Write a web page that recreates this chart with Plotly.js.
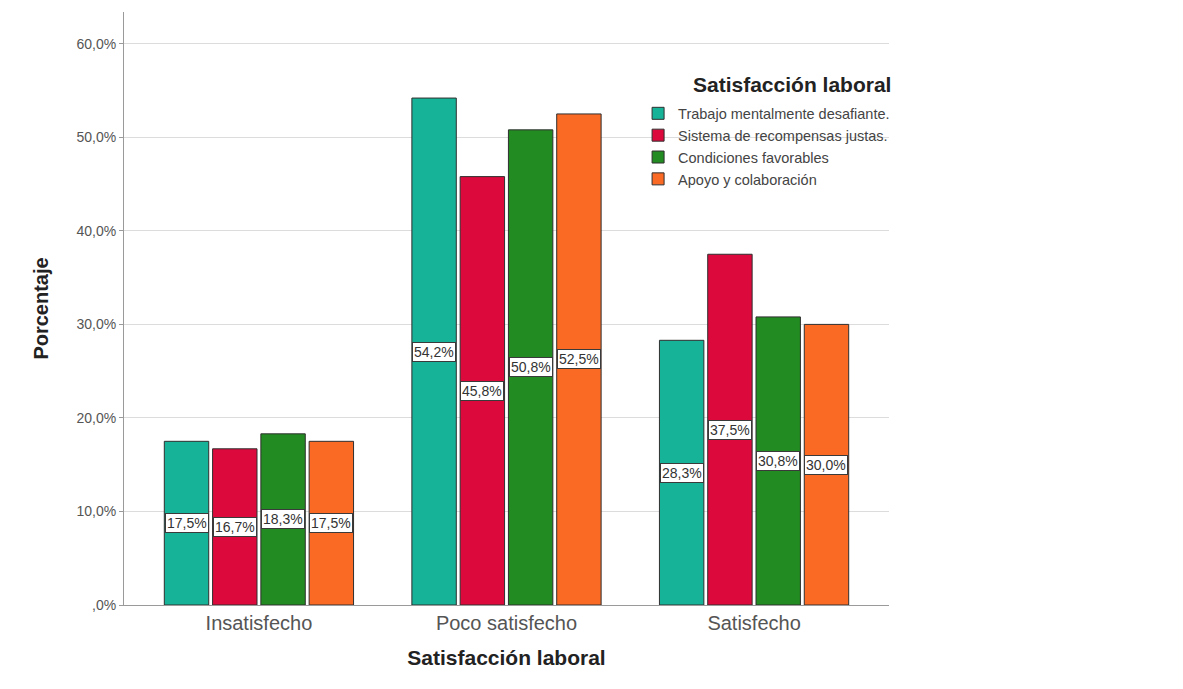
<!DOCTYPE html>
<html>
<head>
<meta charset="utf-8">
<script src="https://cdn.plot.ly/plotly-3.0.1.min.js"></script>
<style>
  html, body { margin: 0; padding: 0; background: #ffffff; }
  #chart { width: 1183px; height: 689px; }
</style>
</head>
<body>
<div id="chart"></div>
<script>
// Categories on the x axis
const categories = ['Insatisfecho', 'Poco satisfecho', 'Satisfecho'];

// One series per dimension of job satisfaction (percent)
const seriesNames = [
  'Trabajo mentalmente desafiante.',
  'Sistema de recompensas justas.',
  'Condiciones favorables',
  'Apoyo y colaboración'
];
const trabajoDesafiante = [17.5, 54.2, 28.3];
const recompensasJustas = [16.7, 45.8, 37.5];
const condicionesFavorables = [18.3, 50.8, 30.8];
const apoyoColaboracion = [17.5, 52.5, 30.0];

// Y axis tick values and their labels
const yTickVals = [0, 10, 20, 30, 40, 50, 60];
const yTickText = [',0%', '10,0%', '20,0%', '30,0%', '40,0%', '50,0%', '60,0%'];

const legendTitle = 'Satisfacción laboral';

const seriesValues = [trabajoDesafiante, recompensasJustas, condicionesFavorables, apoyoColaboracion];
const seriesColors = ['#17b398', '#dc0a3c', '#228b22', '#fb6a24'];

const BARGAP = 0.22;
const BARGROUPGAP = 0.08;

const traces = seriesValues.map((vals, i) => ({
  type: 'bar',
  name: seriesNames[i],
  x: categories,
  y: vals,
  marker: { color: seriesColors[i], line: { color: '#2f2f2f', width: 1 } },
  hoverinfo: 'skip'
}));

// Boxed value labels at mid height of every bar
const fmt = v => v.toFixed(1).replace('.', ',') + '%';
const annotations = [];
const slot = (1 - BARGAP) / seriesValues.length;
seriesValues.forEach((vals, i) => {
  vals.forEach((v, c) => {
    annotations.push({
      xref: 'x', yref: 'y',
      x: c + (i - (seriesValues.length - 1) / 2) * slot,
      y: v / 2,
      text: fmt(v),
      showarrow: false,
      font: { family: 'Liberation Sans, Arial, sans-serif', size: 14, color: '#333333' },
      bgcolor: '#ffffff',
      bordercolor: '#3a3a3a',
      borderwidth: 1,
      borderpad: 1
    });
  });
});

// Legend heading, set slightly right of the legend entries
annotations.push({
  xref: 'paper', yref: 'paper',
  x: 0.873, y: 0.877,
  xanchor: 'center', yanchor: 'middle',
  text: '<b>' + legendTitle + '</b>',
  showarrow: false,
  font: { family: 'Liberation Sans, Arial, sans-serif', size: 21, color: '#222222' }
});

const layout = {
  width: 1183,
  height: 689,
  paper_bgcolor: '#ffffff',
  plot_bgcolor: '#ffffff',
  margin: { l: 124, r: 294, t: 12, b: 84 },
  barmode: 'group',
  bargap: BARGAP,
  bargroupgap: BARGROUPGAP,
  font: { family: 'Liberation Sans, Arial, sans-serif', color: '#444444' },
  xaxis: {
    type: 'category',
    range: [-0.545, 2.545],
    showline: true,
    linecolor: '#9a9a9a',
    linewidth: 1,
    ticks: '',
    showgrid: false,
    tickfont: { size: 20, color: '#555555' },
    title: {
      text: 'Satisfacción laboral',
      font: { size: 21, color: '#222222', weight: 'bold' },
      standoff: 17
    }
  },
  yaxis: {
    range: [0, 63.4],
    tickvals: yTickVals,
    ticktext: yTickText,
    showline: true,
    linecolor: '#9a9a9a',
    linewidth: 1,
    ticks: 'outside',
    ticklen: 4,
    tickcolor: '#9a9a9a',
    showgrid: true,
    gridcolor: '#dcdcdc',
    gridwidth: 1,
    zeroline: false,
    tickfont: { size: 14, color: '#555555' },
    title: {
      text: 'Porcentaje',
      font: { size: 20, color: '#222222', weight: 'bold' },
      standoff: 22
    }
  },
  showlegend: true,
  legend: {
    x: 0.672,
    y: 0.856,
    xanchor: 'left',
    yanchor: 'top',
    bgcolor: 'rgba(0,0,0,0)',
    itemwidth: 30,
    tracegroupgap: 0,
    font: { size: 14.5, color: '#444444' }
  },
  annotations: annotations
};

Plotly.newPlot('chart', traces, layout, { displayModeBar: false, staticPlot: true });
</script>
</body>
</html>
